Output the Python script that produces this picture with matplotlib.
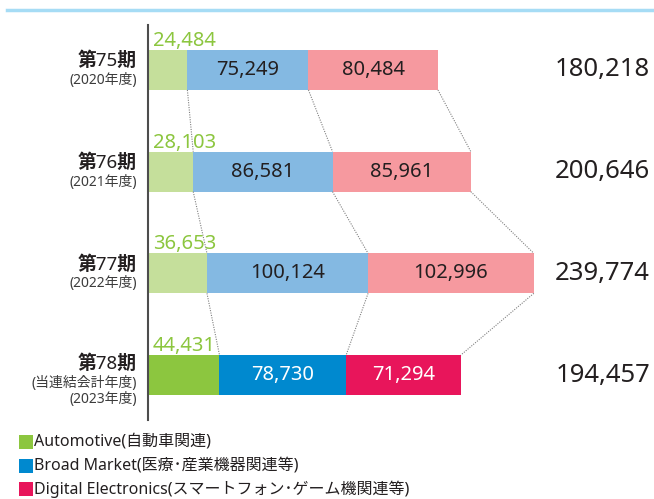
import matplotlib.pyplot as plt
from matplotlib.patches import Rectangle
from matplotlib.lines import Line2D

plt.rcParams['font.family'] = ['Noto Sans', 'Noto Sans CJK JP', 'DejaVu Sans']

# data (unit: 百万円)
periods = ['第75期', '第76期', '第77期', '第78期']
sub_labels = [['(2020年度)'], ['(2021年度)'], ['(2022年度)'], ['(当連結会計年度)', '(2023年度)']]
automotive = [24484, 28103, 36653, 44431]
broad_market = [75249, 86581, 100124, 78730]
digital = [80484, 85961, 102996, 71294]
totals = [180218, 200646, 239774, 194457]
legend_labels = ['Automotive(自動車関連)',
                 'Broad Market(医療･産業機器関連等)',
                 'Digital Electronics(スマートフォン･ゲーム機関連等)']

light_colors = ['#c5df9b', '#84b9e2', '#f6999f']
dark_colors = ['#8cc63f', '#0089cf', '#e8155b']
text_dark = '#231f20'

W, H = 654, 499
fig = plt.figure(figsize=(W / 100, H / 100), dpi=100)
ax = fig.add_axes([148 / W, (H - 420) / H, 506 / W, 395 / H])

px = 1000 / 1.609  # data units per pixel (x)
py = 1 / 101.7     # data units per pixel (y)
bar_h = 40 * py

ax.set_xlim(0, 506 * px)
ax.set_ylim(3 + 45 * py, -45 * py)
for s in ['top', 'right', 'bottom']:
    ax.spines[s].set_visible(False)
ax.spines['left'].set_color('#4d4d4d')
ax.spines['left'].set_linewidth(1.5)
ax.set_xticks([])
ax.set_yticks([])

series = [automotive, broad_market, digital]
for i in range(len(periods)):
    cols = dark_colors if i == len(periods) - 1 else light_colors
    left = 0
    for k, vals in enumerate(series):
        ax.barh(i, vals[i], left=left, height=bar_h, color=cols[k], linewidth=0)
        if k > 0:
            tc = 'white' if i == len(periods) - 1 else text_dark
            ax.text(left + vals[i] / 2, i, f'{vals[i]:,}', ha='center', va='center',
                    fontsize=14.5, color=tc)
        left += vals[i]
    # automotive value above bar
    ax.text(5 * px, i - bar_h / 2 - 4 * py, f'{automotive[i]:,}', ha='left', va='baseline',
            fontsize=14.5, color=dark_colors[0])
    # total
    ax.text(502 * px, i, f'{totals[i]:,}', ha='right', va='center', fontsize=18.5, color=text_dark)

    # left labels
    subs = sub_labels[i]
    off = -9 if len(subs) == 1 else -11
    ax.text(-11 * px, i + off * py, periods[i], ha='right', va='center', fontsize=13.5,
            fontweight='bold', color=text_dark, clip_on=False)
    for j, s in enumerate(subs):
        ax.text(-11 * px, i + (off + 19.5 + 16 * j) * py, s, ha='right', va='center',
                fontsize=10, color='#3c3c3c', clip_on=False)

# dotted connectors between bars
for i in range(len(periods) - 1):
    b0 = [automotive[i], automotive[i] + broad_market[i], totals[i]]
    b1 = [automotive[i + 1], automotive[i + 1] + broad_market[i + 1], totals[i + 1]]
    for x0, x1 in zip(b0, b1):
        ax.plot([x0, x1], [i + bar_h / 2, i + 1 - bar_h / 2], linestyle=(0, (1, 1.2)),
                color='#808080', linewidth=0.8)

# top rule
fig.add_artist(Line2D([7 / W, 1], [1 - 10 / H, 1 - 10 / H], color='#a6dcf5', linewidth=2.5))

# legend
for k, lab in enumerate(legend_labels):
    yc = 442 + 23.5 * k
    fig.add_artist(Rectangle((19 / W, 1 - (yc + 7) / H), 14 / W, 14 / H,
                             color=dark_colors[k], linewidth=0))
    fig.text(34 / W, 1 - yc / H, lab, ha='left', va='center', fontsize=11.5, color=text_dark)

fig.savefig('out.png', dpi=100)
